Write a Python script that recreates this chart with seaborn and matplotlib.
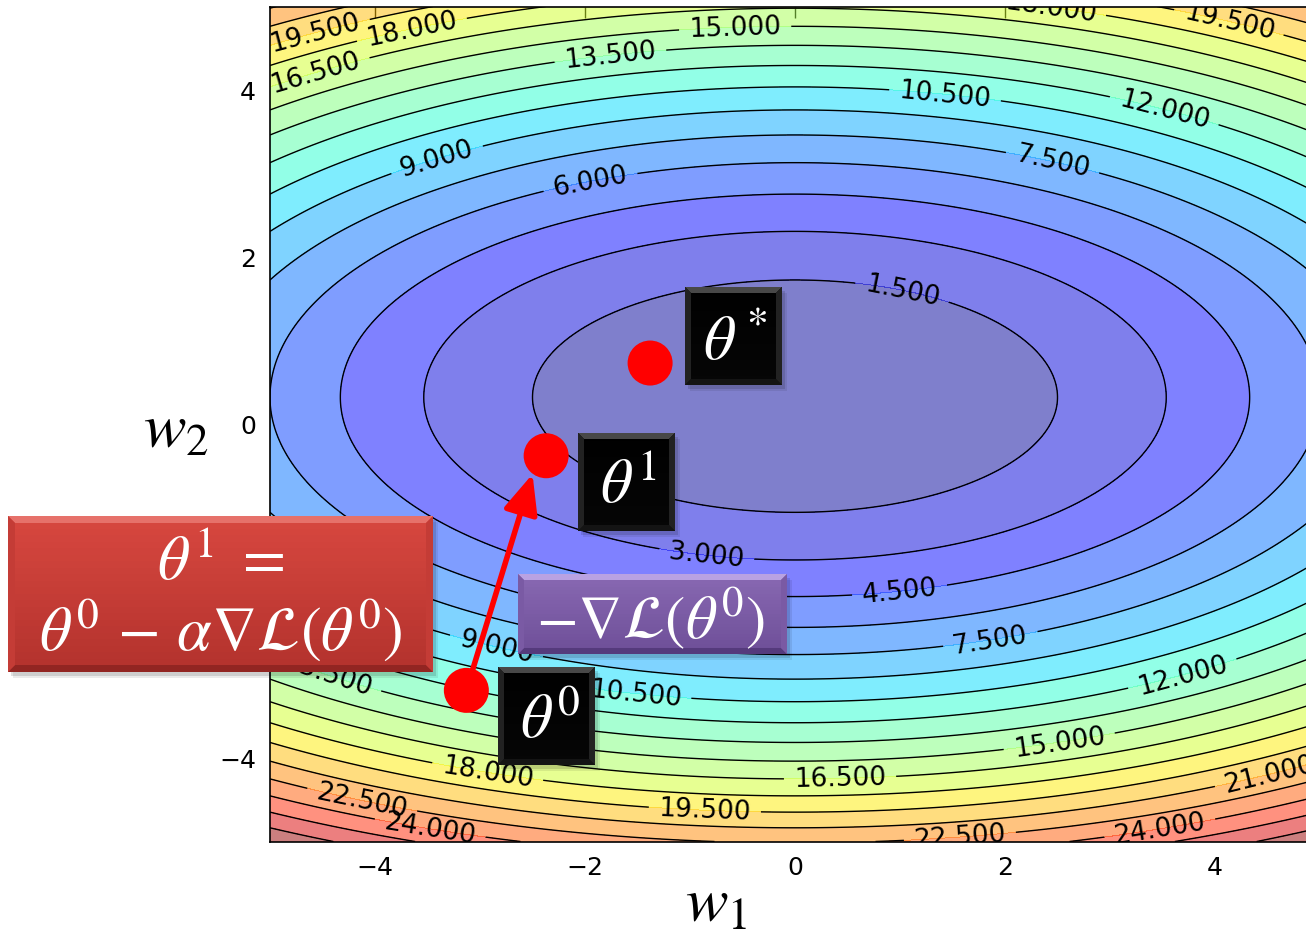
import numpy as np
import matplotlib
matplotlib.use("Agg")
import matplotlib.pyplot as plt
import seaborn as sns
from matplotlib.patches import Rectangle, Polygon
from matplotlib.colors import to_rgb

# loss surface: L = a*(w1-c1)^2 + b*(w2-c2)^2
# (the surface rises a little faster below the minimum than above it)
loss_center = (0.0, 0.32)
curv_w1 = 0.24
curv_w2_up = 0.76
curv_w2_down = 0.79
levels = np.arange(0, 29, 1.5)

# gradient descent points
theta_names = ["theta0", "theta1", "theta_star"]
theta_w1 = [-3.13, -2.37, -1.38]
theta_w2 = [-3.19, -0.38, 0.73]
arrow_tip = (-2.50, -0.60)

# where the contour labels sit (data coords)
label_pos = [(-4.57, 4.69), (-3.65, 4.73), (-4.57, 4.22), (-1.76, 4.43),
             (-0.57, 4.75), (-3.41, 3.17), (-1.95, 2.91), (2.43, 4.96),
             (4.14, 4.85), (1.43, 3.95), (3.52, 3.77), (2.46, 3.17),
             (1.02, 1.58), (-0.84, -1.56), (1.0, -2.04), (1.86, -2.57),
             (-2.86, -2.75), (-1.52, -3.23), (3.71, -3.09), (2.52, -3.83),
             (0.43, -4.29), (-2.93, -4.19), (-0.86, -4.67), (4.52, -4.19),
             (-4.12, -4.49), (-3.48, -4.88), (1.57, -4.93), (3.48, -4.88),
             (-4.48, -3.11)]

W, H = 1306, 937

sns.set_style("white")
plt.rcParams["font.family"] = ["DejaVu Sans"]
plt.rcParams["mathtext.fontset"] = "stix"

fig = plt.figure(figsize=(W / 100, H / 100), dpi=100)
ax = fig.add_axes([270 / W, 1 - 842.5 / H, 1050 / W, 835 / H])

g = np.linspace(-5, 5, 500)
G1, G2 = np.meshgrid(g, g)
dy = G2 - loss_center[1]
Z = curv_w1 * (G1 - loss_center[0]) ** 2 + np.where(dy > 0, curv_w2_up, curv_w2_down) * dy ** 2

ax.contourf(G1, G2, Z, levels=levels, cmap="jet", alpha=0.5)
cs = ax.contour(G1, G2, Z, levels=levels[1:], colors="black", linewidths=1.0)
ax.clabel(cs, fmt="%1.3f", fontsize=19, manual=label_pos, inline=True, inline_spacing=10)

ax.annotate("", xy=arrow_tip, xytext=(theta_w1[0], theta_w2[0]),
            arrowprops=dict(arrowstyle="-|>,head_length=0.8,head_width=0.35",
                            color="red", lw=4, mutation_scale=30,
                            shrinkA=0, shrinkB=0), zorder=4)
sns.scatterplot(x=theta_w1, y=theta_w2, s=1050, color="red", edgecolor="none",
                ax=ax, zorder=5, legend=False)

ax.set_xlim(-5, 5)
ax.set_ylim(-5, 5)
ax.set_xticks([-4, -2, 0, 2, 4])
ax.set_yticks([-4, -2, 0, 2, 4])
ax.tick_params(direction="in", top=True, right=True, length=8, width=1,
               labelsize=18, pad=10, colors="black")
for s in ax.spines.values():
    s.set_color("black")
    s.set_linewidth(1.2)
ax.set_xlabel("")
ax.set_ylabel("")


def px(x, y):
    return (x / W, 1 - y / H)


def mix(c1, c2, t):
    a, b = np.array(to_rgb(c1)), np.array(to_rgb(c2))
    return tuple(a + (b - a) * t)


def bevel_box(x0, y0, x1, y1, top, bottom, hi, lo, side, b=7):
    # soft drop shadow
    for k, al in [(5, 0.08), (3, 0.12)]:
        fig.add_artist(Rectangle(px(x0 + k, y1 + k + 1), (x1 - x0) / W, (y1 - y0) / H,
                                 transform=fig.transFigure, color="black", alpha=al, lw=0))
    n = 24
    for i in range(n):
        ya = y0 + (y1 - y0) * i / n
        yb = y0 + (y1 - y0) * (i + 1) / n
        fig.add_artist(Rectangle(px(x0, yb), (x1 - x0) / W, (yb - ya) / H + 0.0005,
                                 transform=fig.transFigure, lw=0,
                                 color=mix(top, bottom, i / (n - 1))))
    polys = [
        ([(x0, y0), (x1, y0), (x1 - b, y0 + b), (x0 + b, y0 + b)], hi),
        ([(x0, y1), (x1, y1), (x1 - b, y1 - b), (x0 + b, y1 - b)], lo),
        ([(x0, y0), (x0 + b, y0 + b), (x0 + b, y1 - b), (x0, y1)], side),
        ([(x1, y0), (x1 - b, y0 + b), (x1 - b, y1 - b), (x1, y1)], side),
    ]
    for pts, c in polys:
        fig.add_artist(Polygon([px(*p) for p in pts], closed=True, transform=fig.transFigure,
                               color=c, lw=0))


def label(x, y, s, size=45, va="baseline", **kw):
    fig.text(*px(x, y), s, color="white", fontsize=size, ha="center", va=va, zorder=10, **kw)


# black point boxes
for (x0, y0, x1, y1), txt, tx, ty in [
        ((685, 288, 782, 386), r"$\theta^*$", 735, 360),
        ((578, 434, 675, 532), r"$\theta^1$", 628, 503),
        ((498, 668, 595, 766), r"$\theta^0$", 550, 738)]:
    bevel_box(x0, y0, x1, y1, "#000000", "#060606", "#484848", "#141414", "#222222", b=6)
    label(tx, ty, txt)

# gradient box
bevel_box(518, 575, 787, 655, "#8868b2", "#6e4f98", "#b9a2e2", "#553a7c", "#7a5aa4", b=6)
label(651, 638, r"$-\nabla\mathcal{L}(\theta^0)$", size=44)

# update rule box
bevel_box(8, 517, 433, 673, "#d7473f", "#b3322d", "#e6716a", "#922522", "#c43c36", b=7)
label(221, 598, "$\\theta^1\\ =$\n$\\theta^0\\,-\\,\\alpha\\nabla\\mathcal{L}(\\theta^0)$",
      size=45, va="center", linespacing=1.05, multialignment="center")

# axis names
fig.text(*px(176, 448), r"$w_2$", fontsize=46, ha="center", va="baseline", color="black")
fig.text(*px(716, 922), r"$w_1$", fontsize=46, ha="center", va="baseline", color="black")

fig.savefig("out.png", dpi=100)
